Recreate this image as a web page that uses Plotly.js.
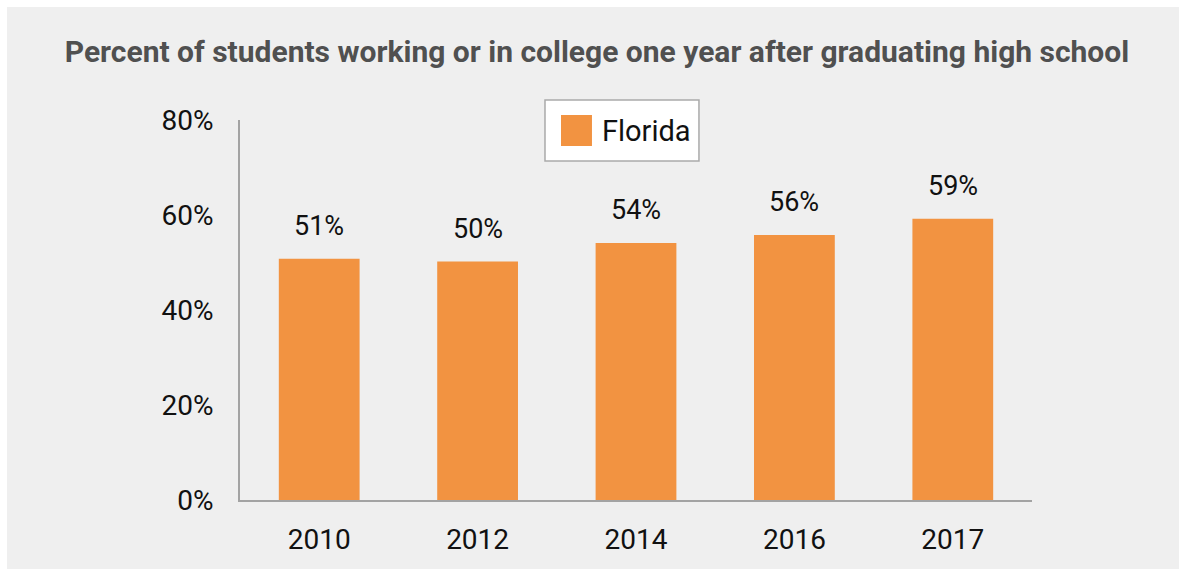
<!DOCTYPE html>
<html><head><meta charset="utf-8">
<script src="https://cdn.plot.ly/plotly-3.0.1.min.js"></script>
<style>
html,body{margin:0;padding:0;background:#ffffff;}
#chart{position:absolute;left:7px;top:7px;width:1172px;height:562px;}
</style></head>
<body><div id="chart"></div>
<script>
const years = ['2010', '2012', '2014', '2016', '2017'];
const florida = [50.8, 50.2, 54.1, 55.8, 59.2];
const labels = ['51%', '50%', '54%', '56%', '59%'];
const yTickVals = [0, 20, 40, 60, 80];
const yTickText = ['0%', '20%', '40%', '60%', '80%'];
const seriesName = 'Florida';
const titleText = 'Percent of students working or in college one year after graduating high school';

const FONT = 'Roboto, "Liberation Sans", sans-serif';
const ORANGE = '#F29341';

const trace = {
  type: 'bar', x: years, y: florida, name: seriesName,
  marker: {color: ORANGE}, showlegend: false, hoverinfo: 'x+y'
};

const annotations = years.map((yr, i) => ({
  x: i, y: florida[i], xref: 'x', yref: 'y', text: labels[i],
  showarrow: false, yshift: 33, yanchor: 'middle',
  font: {family: FONT, size: 27, color: '#111111'}
}));
annotations.push({
  x: 0.4545, y: 0.971, xref: 'paper', yref: 'paper', text: seriesName,
  showarrow: false, xanchor: 'left', yanchor: 'middle',
  font: {family: FONT, size: 29, color: '#111111'}
});

const layout = {
  width: 1172, height: 562,
  paper_bgcolor: '#efefef', plot_bgcolor: '#efefef',
  margin: {l: 233, r: 147, t: 113, b: 69, pad: 0},
  title: {
    text: '<b>' + titleText + '</b>',
    x: 0.5034, xref: 'container', xanchor: 'center',
    y: 0.92, yref: 'container', yanchor: 'middle',
    font: {family: FONT, size: 30, color: '#505050'}
  },
  bargap: 0.49,
  xaxis: {
    type: 'category', range: [-0.5, 4.5], showgrid: false, zeroline: false,
    showline: true, linecolor: '#a3a3a3', linewidth: 2,
    ticks: '', ticklabelstandoff: 13,
    tickfont: {family: FONT, size: 28, color: '#111111'}
  },
  yaxis: {
    range: [0, 80], showgrid: false, zeroline: false,
    showline: true, linecolor: '#a3a3a3', linewidth: 2,
    tickvals: yTickVals, ticktext: yTickText,
    ticks: '', ticklabelstandoff: 19,
    tickfont: {family: FONT, size: 28, color: '#111111'}
  },
  shapes: [
    {type: 'rect', xref: 'paper', yref: 'paper', x0: 0.3851, x1: 0.5795, y0: 0.8921, y1: 1.0526,
     fillcolor: '#ffffff', line: {color: '#aaaaaa', width: 1.5}},
    {type: 'rect', xref: 'paper', yref: 'paper', x0: 0.4053, x1: 0.4444, y0: 0.9316, y1: 1.0132,
     fillcolor: ORANGE, line: {width: 0}}
  ],
  annotations: annotations
};

Plotly.newPlot('chart', [trace], layout, {displayModeBar: false, staticPlot: true});
</script></body></html>
